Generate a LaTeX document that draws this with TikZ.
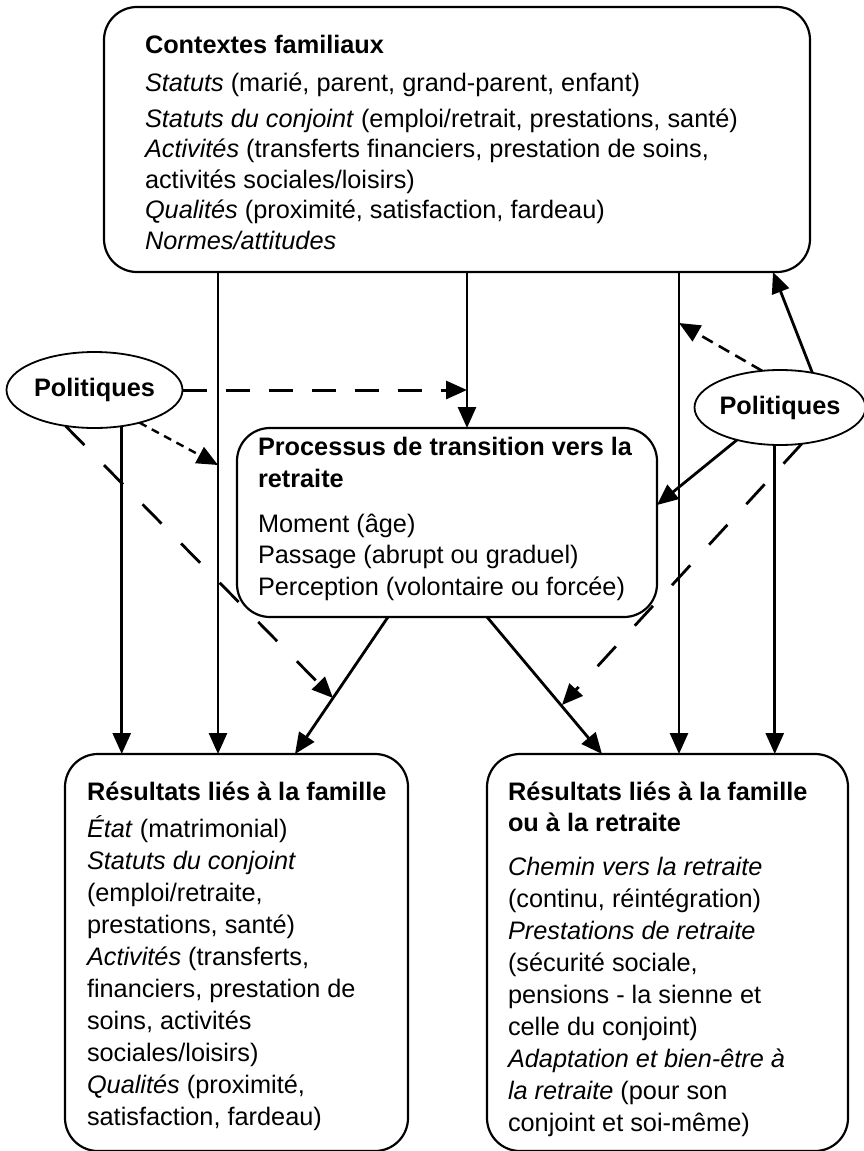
\documentclass[tikz,border=0pt]{standalone}
\usepackage{fontspec}
\setmainfont{Liberation Sans}
\usetikzlibrary{arrows.meta,shapes.geometric}
\newcommand{\myfs}[1]{\fontsize{25.3pt}{#1pt}\selectfont}
\newcommand{\firstln}{\rule{0pt}{25pt}}
\begin{document}
\begin{tikzpicture}[x=1pt,y=-1pt,
  box/.style={draw,line width=2.2pt,rounded corners=33pt,inner sep=0pt,outer sep=0pt},
  pol/.style={draw,ellipse,line width=1.8pt,inner sep=0pt,outer sep=0pt,font=\myfs{30}\bfseries},
  txt/.style={anchor=north west,inner sep=0pt,outer sep=0pt,align=left},
  tip/.style={-{Triangle[length=21pt,width=18pt]}},
  arr/.style={tip,line width=2.8pt},
  dashlong/.style={tip,line width=3pt,dash pattern=on 24pt off 19pt},
  dotline/.style={tip,line width=2.4pt,dash pattern=on 8pt off 6pt},
  dashshort/.style={tip,line width=2.6pt,dash pattern=on 12pt off 7pt},
  dashdiag/.style={tip,line width=2.8pt,dash pattern=on 27pt off 28pt}
]
\useasboundingbox (0,0) rectangle (863,1151);

% boxes
\node[box,minimum width=706pt,minimum height=265pt] (top) at (457,139.5) {};
\node[box,minimum width=420pt,minimum height=189pt] (mid) at (447,522.5) {};
\node[box,minimum width=343pt,minimum height=397pt] (bl) at (236.5,952.5) {};
\node[box,minimum width=361pt,minimum height=397pt] (br) at (667.5,952.5) {};

% ellipses
\node[pol,minimum width=176pt,minimum height=76pt] (lp) at (94.5,390) {Politiques};
\node[pol,minimum width=166pt,minimum height=75pt] (rp) at (780,407.5) {Politiques};

% texts
\node[txt,font=\myfs{30.5}] (topT) at (145,28) {\firstln\textbf{Contextes familiaux}\\[7.5pt]
\textit{Statuts} (marié, parent, grand-parent, enfant)\\[5.5pt]
\textit{Statuts du conjoint} (emploi/retrait, prestations, santé)\\
\textit{Activités} (transferts financiers, prestation de soins,\\
activités sociales/loisirs)\\
\textit{Qualités} (proximité, satisfaction, fardeau)\\
\textit{Normes/attitudes}};

\node[txt,font=\myfs{31.5}] (midT) at (258,430) {\firstln\textbf{Processus de transition vers la}\\[0.5pt]
\textbf{retraite}\\[13.5pt]
Moment (âge)\\
Passage (abrupt ou graduel)\\
Perception (volontaire ou forcée)};

\node[txt,font=\myfs{32}] (blT) at (87,775) {\firstln\textbf{Résultats liés à la famille}\\[5pt]
\textit{État} (matrimonial)\\
\textit{Statuts du conjoint}\\
(emploi/retraite,\\
prestations, santé)\\
\textit{Activités} (transferts,\\
financiers, prestation de\\
soins, activités\\
sociales/loisirs)\\
\textit{Qualités} (proximité,\\
satisfaction, fardeau)};

\node[txt,font=\myfs{32}] (brT) at (508,775) {\firstln\textbf{Résultats liés à la famille}\\[-1pt]
\textbf{ou à la retraite}\\[12pt]
\textit{Chemin vers la retraite}\\
(continu, réintégration)\\
\textit{Prestations de retraite}\\
(sécurité sociale,\\
pensions - la sienne et\\
celle du conjoint)\\
\textit{Adaptation et bien-être à}\\
\textit{la retraite} (pour son\\
conjoint et soi-même)};

% columns and free ends
\coordinate (c218) at (218,0);
\coordinate (c467) at (467,0);
\coordinate (c679) at (679,0);
\coordinate (c388) at (388,0);
\coordinate (c295) at (295,0);
\coordinate (c487) at (487,0);
\coordinate (c602) at (602,0);
\coordinate (c773) at (773,0);
\coordinate (e1) at (218,465);
\coordinate (e2) at (333,698);
\coordinate (e3) at (679,323);
\coordinate (e4) at (657,505);
\coordinate (e5) at (562,705);

% solid connectors
\draw[arr] (c218 |- top.south) -- (c218 |- bl.north);
\draw[arr] (c467 |- top.south) -- (c467 |- mid.north);
\draw[arr] (c679 |- top.south) -- (c679 |- br.north);
\draw[arr] (lp.-53) -- (lp.-53 |- bl.north);
\draw[arr] (rp.-98) -- (rp.-98 |- br.north);
\draw[arr] (c388 |- mid.south) -- (c295 |- bl.north);
\draw[arr] (c487 |- mid.south) -- (c602 |- br.north);
\draw[arr] (rp.47) -- (c773 |- top.south);
\draw[arr] (rp.217) -- (e4);

% dashed connectors
\draw[dashlong] (lp.east) -- (lp.east -| c467);
\draw[dotline] (lp.-36) -- (e1);
\draw[dashdiag] (lp.-129.5) -- (e2);
\draw[dashshort] (rp.116) -- (e3);
\draw[dashdiag] (rp.-59) -- (e5);
\end{tikzpicture}
\end{document}
